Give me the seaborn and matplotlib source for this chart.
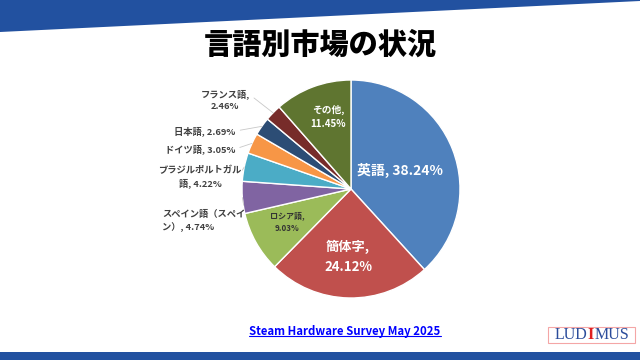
import matplotlib
matplotlib.use('Agg')
import matplotlib.pyplot as plt
from matplotlib.patches import Polygon, Rectangle
from matplotlib.lines import Line2D
import numpy as np
import seaborn as sns

# data (Steam Hardware Survey May 2025, language share)
languages = ['英語', '簡体字', 'ロシア語', 'スペイン語（スペイ\nン）', 'ブラジルポルトガル\n語',
             'ドイツ語', '日本語', 'フランス語', 'その他']
shares = [38.24, 24.12, 9.03, 4.74, 4.22, 3.05, 2.69, 2.46, 11.45]
pct_on_new_line = [False, True, True, False, False, False, False, True, True]

title = '言語別市場の状況'
source = 'Steam Hardware Survey May 2025'

colors = ['#4F81BD', '#C0504D', '#9BBB59', '#8064A2', '#4BACC6',
          '#F79646', '#2C4D75', '#772C2A', '#5F7530']

sns.set_theme(style='white')
plt.rcParams['font.family'] = ['Noto Sans CJK JP', 'DejaVu Sans']

W, H = 640, 360
fig = plt.figure(figsize=(6.4, 3.6), dpi=100)
fig.patch.set_facecolor('white')

def fx(px):
    return px / W

def fy(py):
    return 1 - py / H

# banners
navy = '#2251A0'
fig.patches.append(Polygon([[0, 1], [1, 1], [1, fy(1)], [0, fy(32)]], closed=True,
                           transform=fig.transFigure, facecolor=navy, edgecolor='none', zorder=0))
fig.patches.append(Rectangle((0, 0), 1, 8 / H, transform=fig.transFigure,
                             facecolor=navy, edgecolor='none', zorder=0))

fig.text(0.5, fy(45), title, ha='center', va='center', fontsize=21, fontweight='heavy', color='black')

# pie
cx, cy, r = 351, 189, 109
ax = fig.add_axes([fx(cx - r), fy(cy + r), 2 * r / W, 2 * r / H])
wedges, _ = ax.pie(shares, colors=colors, startangle=90, counterclock=False,
                   wedgeprops=dict(edgecolor='white', linewidth=1))
ax.set_xlim(-1, 1)
ax.set_ylim(-1, 1)
ax.set_aspect('equal')
ax.axis('off')

labels = []
for name, s, nl in zip(languages, shares, pct_on_new_line):
    sep = ',\n' if nl else ', '
    labels.append(f'{name}{sep}{s:.2f}%')

# label placement (pixel centers), inside / outside styling
inside = {
    0: dict(pos=(400, 170), size=10, color='white'),
    1: dict(pos=(348, 257), size=9.5, color='white'),
    2: dict(pos=(287, 222), size=5.8, color='#333333'),
    8: dict(pos=(328, 117), size=7, color='white'),
}
outside = {
    3: dict(pos=(204, 221), rel=(1, 0.75), malign='left'),
    4: dict(pos=(200, 177), rel=(1, 0.75), malign='center'),
    5: dict(pos=(200, 149), rel=(1, 0.5), malign='center'),
    6: dict(pos=(205, 131), rel=(1, 0.5), malign='center'),
    7: dict(pos=(225, 100), rel=(1, 0.75), malign='center'),
}

for i, w in enumerate(wedges):
    lab = labels[i]
    if i in inside:
        o = inside[i]
        fig.text(fx(o['pos'][0]), fy(o['pos'][1]), lab, ha='center', va='center',
                 fontsize=o['size'], color=o['color'], fontweight='bold', linespacing=1.5)
    else:
        o = outside[i]
        ang = np.deg2rad((w.theta1 + w.theta2) / 2)
        ax.annotate(lab, xy=(np.cos(ang), np.sin(ang)),
                    xytext=(fx(o['pos'][0]), fy(o['pos'][1])), textcoords='figure fraction',
                    ha='center', va='center', multialignment=o['malign'],
                    fontsize=6.7, color='#404040', fontweight='bold', linespacing=1.4,
                    arrowprops=dict(arrowstyle='-', color='#C8C8C8', lw=0.6,
                                    relpos=o['rel'], shrinkA=1, shrinkB=0),
                    annotation_clip=False)

# source link
src = fig.text(fx(345), fy(331), source, ha='center', va='center', fontsize=8.2,
               color='#0000FF', fontweight='bold', family=['Noto Sans CJK JP', 'DejaVu Sans'])
fig.canvas.draw()
bb = src.get_window_extent(renderer=fig.canvas.get_renderer())
fig.lines.append(Line2D([bb.x0 / W, bb.x1 / W], [bb.y0 / H + 0.004, bb.y0 / H + 0.004],
                        transform=fig.transFigure, color='#0000FF', lw=0.8))

# logo
fig.patches.append(Rectangle((fx(548), fy(343)), 87 / W, 16 / H, transform=fig.transFigure,
                             facecolor='white', edgecolor='#F4A6A6', lw=0.8))
logo_y = fy(335)
fig.text(fx(587), logo_y, 'LUD', ha='right', va='center', fontsize=11.5,
         family='Liberation Serif', color='#2B4C9B')
fig.text(fx(591), logo_y, 'I', ha='center', va='center', fontsize=11.5,
         family='Liberation Serif', color='#E02020', fontweight='bold')
fig.text(fx(595), logo_y, 'MUS', ha='left', va='center', fontsize=11.5,
         family='Liberation Serif', color='#2B4C9B')

fig.savefig('out.png', dpi=100, facecolor='white')
